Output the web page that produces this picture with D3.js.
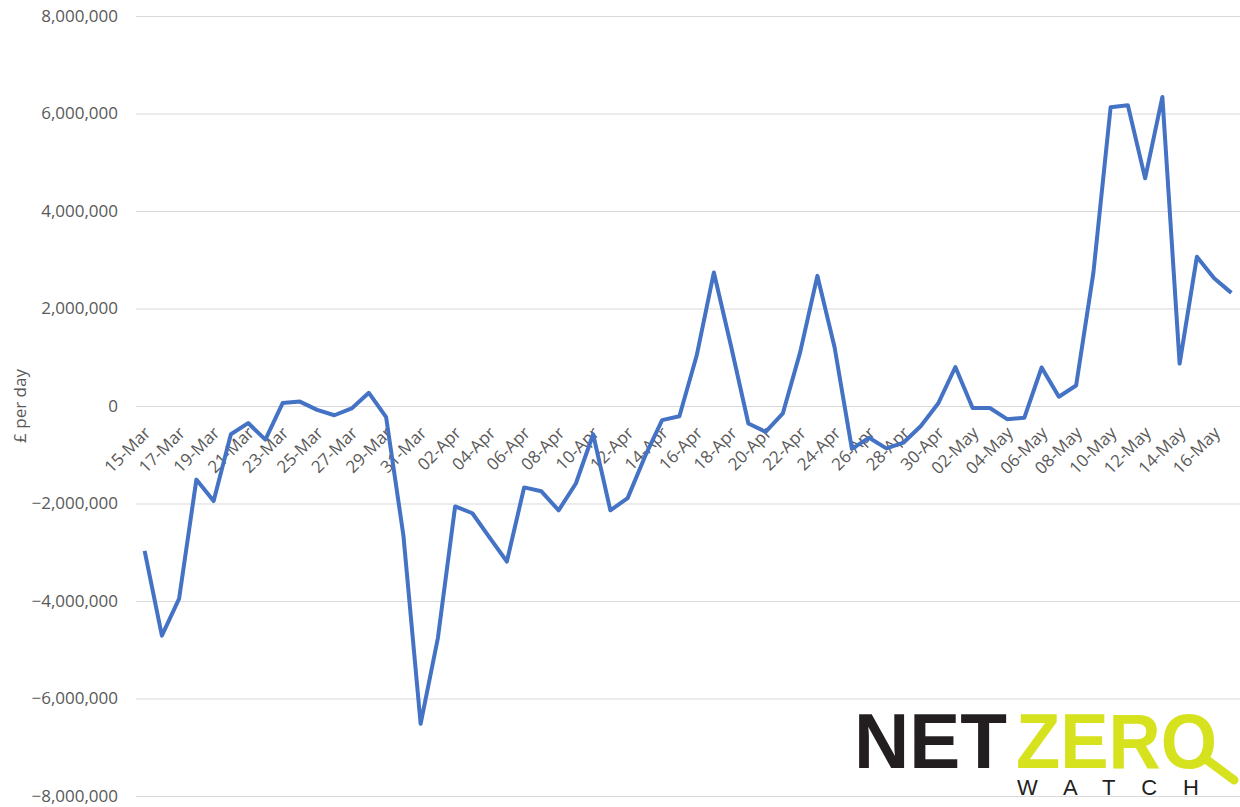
<!DOCTYPE html>
<html lang="en">
    <head>
        <meta charset="utf-8">
        <title>Net flows per day</title>
    <script type="text/javascript" src="https://d3js.org/d3.v7.min.js"></script>
    <style>
        body { margin: 0; background: #fff; }
        text { font-family: "Open Sans", "Liberation Sans", sans-serif; }
    </style>
    </head>
    <body>
        <div id="line-chart"></div>
    </body>
    <script type="text/javascript">
        const width = 1240;
        const height = 807;
        const plotLeft = 136;
        const plotRight = 1240;
        const plotTop = 16;
        const plotBottom = 796;

        // categories (one per day)
        const days = [
            "15-Mar","16-Mar","17-Mar","18-Mar","19-Mar","20-Mar","21-Mar","22-Mar","23-Mar","24-Mar",
            "25-Mar","26-Mar","27-Mar","28-Mar","29-Mar","30-Mar","31-Mar",
            "01-Apr","02-Apr","03-Apr","04-Apr","05-Apr","06-Apr","07-Apr","08-Apr","09-Apr","10-Apr",
            "11-Apr","12-Apr","13-Apr","14-Apr","15-Apr","16-Apr","17-Apr","18-Apr","19-Apr","20-Apr",
            "21-Apr","22-Apr","23-Apr","24-Apr","25-Apr","26-Apr","27-Apr","28-Apr","29-Apr","30-Apr",
            "01-May","02-May","03-May","04-May","05-May","06-May","07-May","08-May","09-May","10-May",
            "11-May","12-May","13-May","14-May","15-May","16-May","17-May"
        ];

        // £ per day
        const values = [
            -2970000, -4710000, -3950000, -1510000, -1950000, -580000, -350000, -690000, 60000, 90000,
            -80000, -190000, -50000, 270000, -230000, -2650000, -6520000,
            -4760000, -2060000, -2200000, -2700000, -3190000, -1670000, -1750000, -2140000, -1590000, -580000,
            -2140000, -1890000, -1040000, -290000, -210000, 1030000, 2740000, 1220000, -360000, -530000,
            -150000, 1100000, 2670000, 1200000, -880000, -650000, -870000, -750000, -410000, 50000,
            800000, -40000, -40000, -270000, -240000, 790000, 190000, 420000, 2730000, 6130000,
            6170000, 4670000, 6340000, 870000, 3060000, 2620000, 2320000
        ];

        const yTicks = [-8000000, -6000000, -4000000, -2000000, 0, 2000000, 4000000, 6000000, 8000000];
        const xLabels = days.filter((d, i) => i % 2 === 0);

        const svg = d3
        .select("#line-chart")
        .append("svg")
        .attr("width", width)
        .attr("height", height)
        .attr("viewBox", [0, 0, width, height]);

        function plotLineChart(dataset){
            const xScale = d3.scalePoint()
            .domain(days)
            .range([plotLeft, plotRight])
            .padding(0.5);

            const yScale = d3.scaleLinear()
            .domain([-8000000, 8000000])
            .range([plotBottom, plotTop]);

            // y-axis with gridlines
            const yAxis = d3.axisLeft(yScale)
            .tickValues(yTicks)
            .tickFormat(d3.format(","))
            .tickSize(-(plotRight - plotLeft))
            .tickPadding(18);

            const gy = svg.append("g")
            .attr("class", "axis y")
            .attr("transform", `translate(${plotLeft}, 0)`)
            .call(yAxis);
            gy.select(".domain").remove();
            gy.selectAll("line").attr("stroke", "#d9d9d9");
            gy.selectAll("text")
            .attr("fill", "#595959")
            .style("font-size", "17px");

            // x labels, rotated, along the zero line
            const gx = svg.append("g")
            .attr("class", "axis x");
            gx.selectAll("text")
            .data(xLabels)
            .enter()
            .append("text")
            .attr("transform", d => `translate(${xScale(d) + 7}, ${yScale(0) + 28}) rotate(-45)`)
            .attr("text-anchor", "end")
            .attr("fill", "#595959")
            .style("font-size", "17px")
            .text(d => d);

            // axis title
            svg.append("text")
            .attr("transform", `translate(26, ${yScale(0)}) rotate(-90)`)
            .attr("text-anchor", "middle")
            .attr("fill", "#595959")
            .style("font-size", "17px")
            .text("£ per day");

            // the line
            const line = d3.line()
            .x(d => xScale(d.day))
            .y(d => yScale(d.value));

            svg.append("path")
            .datum(dataset)
            .attr("fill", "none")
            .attr("stroke", "#4472C4")
            .attr("stroke-width", 4)
            .attr("stroke-linejoin", "round")
            .attr("d", line);
        }

        function drawLogo(){
            const logo = svg.append("g").attr("class", "logo");
            logo.append("text")
            .attr("x", 854)
            .attr("y", 768)
            .attr("fill", "#231f20")
            .attr("textLength", 153)
            .attr("lengthAdjust", "spacingAndGlyphs")
            .style("font-family", "'Liberation Sans', Arial, sans-serif")
            .style("font-weight", "bold")
            .style("font-size", "78px")
            .text("NET");
            logo.append("text")
            .attr("x", 1016)
            .attr("y", 768)
            .attr("fill", "#d7e21f")
            .attr("textLength", 201)
            .attr("lengthAdjust", "spacingAndGlyphs")
            .style("font-family", "'Liberation Sans', Arial, sans-serif")
            .style("font-weight", "bold")
            .style("font-size", "78px")
            .text("ZERO");
            logo.append("line")
            .attr("x1", 1207).attr("y1", 760)
            .attr("x2", 1234).attr("y2", 780)
            .attr("stroke", "#d7e21f")
            .attr("stroke-width", 9)
            .attr("stroke-linecap", "round");
            logo.append("text")
            .attr("x", 1017)
            .attr("y", 795)
            .attr("fill", "#231f20")
            .attr("textLength", 182)
            .attr("lengthAdjust", "spacing")
            .style("font-family", "'Liberation Sans', Arial, sans-serif")
            .style("font-size", "22px")
            .text("WATCH");
        }

        const data = days.map((d, i) => ({day: d, value: values[i]}));
        plotLineChart(data);
        drawLogo();
    </script>
</html>
